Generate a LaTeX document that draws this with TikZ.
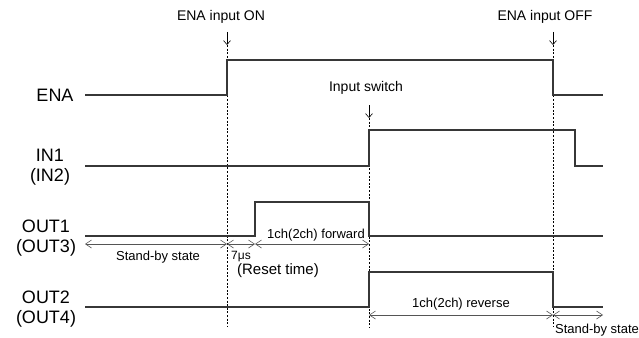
\documentclass[tikz,border=0pt]{standalone}
\usepackage{fontspec}
\setmainfont{Liberation Sans}
\usetikzlibrary{arrows.meta}
\definecolor{sig1}{RGB}{55, 55, 55}
\definecolor{dim1}{RGB}{85, 85, 85}

\begin{document}
\begin{tikzpicture}[x=1pt, y=-1pt, line width=1.1pt,
  sig/.style={draw=sig1, line width=1.1pt},
  guide/.style={draw=black, line width=0.7pt, dash pattern=on 2pt off 1.6pt},
  dimarr/.style={draw=dim1, line width=0.6pt, {Straight Barb[length=6pt,width=8pt]}-{Straight Barb[length=6pt,width=8pt]}},
  pointer/.style={draw=black, line width=0.6pt, -{Straight Barb[length=4pt,width=7pt]}},
  lab/.style={font=\fontsize{18}{20}\selectfont, align=center, inner sep=0pt},
  small/.style={font=\fontsize{13}{15}\selectfont, inner sep=0pt}]
  \useasboundingbox (0,0) rectangle (639,337);
  % signal names
  \node[lab] (ena) at (55,95) {ENA};
  \node[lab] (in1) at (50,167) {IN1\\(IN2)};
  \node[lab] (out1) at (46,238) {OUT1\\(OUT3)};
  \node[lab] (out2) at (46,309) {OUT2\\(OUT4)};
  % event labels
  \node[small, font=\fontsize{14}{16}\selectfont] (on) at (221,17) {ENA input ON};
  \node[small, font=\fontsize{14}{16}\selectfont] (off) at (545,17) {ENA input OFF};
  \node[small, font=\fontsize{14}{16}\selectfont] (sw) at (366,88) {Input switch};
  % time marks
  \coordinate (a1) at (227,32); \coordinate (a2) at (227,45); \coordinate (a3) at (227,327);
  \coordinate (c1) at (369,105); \coordinate (c2) at (369,118); \coordinate (c3) at (369,327);
  \coordinate (d1) at (553,32); \coordinate (d2) at (553,45); \coordinate (d3) at (553,327);
  \foreach \from/\to in {a1/a2, c1/c2, d1/d2}
    \draw[pointer] (\from) -- (\to);
  \foreach \from/\to in {a2/a3, c2/c3, d2/d3}
    \draw[guide] (\from) -- (\to);
  % waveforms
  \draw[sig] (85,95) -- (227,95) -- (227,60) -- (553,60) -- (553,95) -- (603,95);
  \draw[sig] (85,166) -- (369,166) -- (369,130) -- (575,130) -- (575,166) -- (603,166);
  \draw[sig] (85,236) -- (255,236) -- (255,202) -- (369,202) -- (369,236) -- (603,236);
  \draw[sig] (85,307) -- (369,307) -- (369,272) -- (553,272) -- (553,307) -- (603,307);
  % durations
  \coordinate (p0) at (85,244); \coordinate (p1) at (227,244);
  \coordinate (p2) at (255,244); \coordinate (p3) at (369,244);
  \coordinate (q0) at (369,315); \coordinate (q1) at (553,315); \coordinate (q2) at (603,315);
  \foreach \from/\to in {p0/p1, p1/p2, p2/p3, q0/q1, q1/q2}
    \draw[dimarr] (\from) -- (\to);
  \node[small] (stby1) at (158,257) {Stand-by state};
  \node[small, font=\fontsize{12}{14}\selectfont] (reset) at (241,257) {7μs};
  \node[small, font=\fontsize{15}{17}\selectfont] (rtime) at (278,271) {(Reset time)};
  \node[small] (fwd) at (316,235) {1ch(2ch) forward};
  \node[small] (rev) at (461,304) {1ch(2ch) reverse};
  \node[small] (stby2) at (597,330) {Stand-by state};
\end{tikzpicture}
\end{document}
